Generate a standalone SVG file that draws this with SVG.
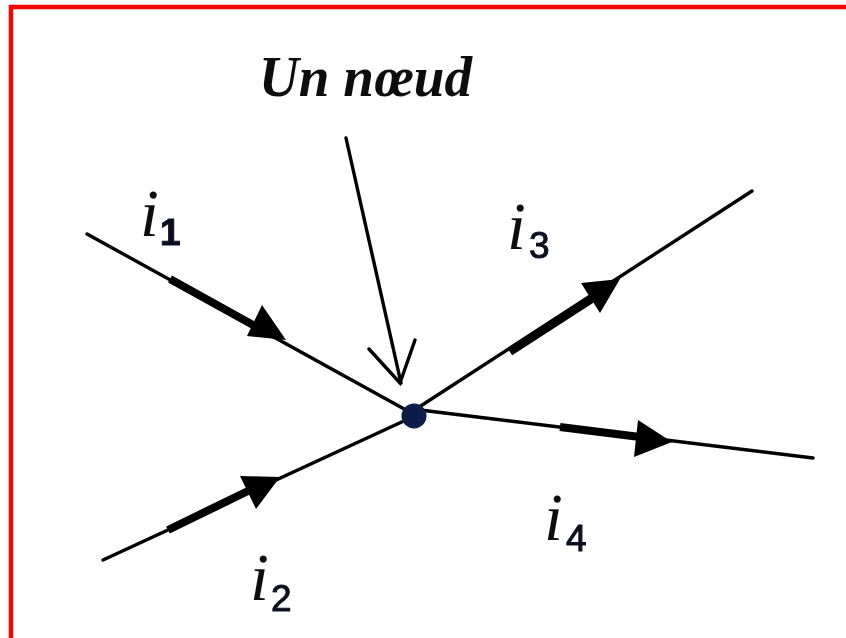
<svg xmlns="http://www.w3.org/2000/svg" width="846" height="638" viewBox="0 0 846 638">
<defs><filter id="soft" x="-5%" y="-5%" width="110%" height="110%"><feGaussianBlur stdDeviation="0.6"/></filter></defs>
<style>
.w{fill:none;stroke:#000;stroke-width:3.4;stroke-linecap:round}
.t{fill:none;stroke:#000;stroke-width:8}
.h{fill:#000}
.i{font-family:"Liberation Serif",serif;font-style:italic;font-size:68px;fill:#111}
.s{font-family:"Liberation Sans",sans-serif;font-size:37px;fill:#0c1020;stroke:#0c1020;stroke-width:1}
</style>
<rect width="846" height="638" fill="#fff"/>
<path d="M11 638V7H846" fill="none" stroke="#f50505" stroke-width="4.5"/>
<g filter="url(#soft)">
<g id="connectors">
<path class="w" d="M87 234L406 410M103 560L406 420M416 409L752 191M420 410L813 458"/>
<path class="t" d="M170 279L262 330M168 530L250 490M510 352L592 299M560 427L640 437"/>
<path class="h" d="M286 340L262 305L247 336ZM280 477L240 476L256 509ZM620 279L581 283L600 313ZM672 442L638 420L634 457Z"/>
<path class="w" d="M346 138L401 383M369 349L400 383L415 340"/>
</g>
<g id="node"><circle cx="414" cy="416" r="12.5" fill="#0f1f4a"/></g>
<g id="label-noeud"><text x="259" y="96" font-family="Liberation Serif,serif" font-style="italic" font-weight="bold" font-size="57" fill="#111" textLength="213" lengthAdjust="spacingAndGlyphs">Un nœud</text></g>
<g id="label-i1"><text class="i" x="140" y="236">i</text><text class="s" x="160" y="245" font-weight="bold">1</text></g>
<g id="label-i2"><text class="i" x="250" y="600">i</text><text class="s" x="271" y="611">2</text></g>
<g id="label-i3"><text class="i" x="507" y="249">i</text><text class="s" x="529" y="258">3</text></g>
<g id="label-i4"><text class="i" x="544" y="540">i</text><text class="s" x="566" y="551">4</text></g>
</g>
</svg>
